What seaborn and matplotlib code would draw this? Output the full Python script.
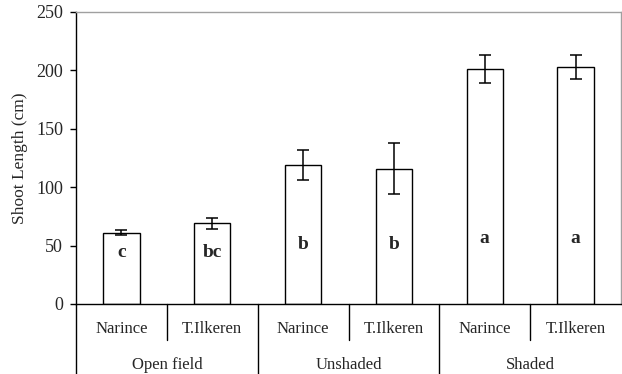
import matplotlib
matplotlib.use("Agg")
import matplotlib.pyplot as plt
import matplotlib.transforms as mtransforms
import seaborn as sns
import pandas as pd

groups = ["Open field", "Unshaded", "Shaded"]
cultivars = ["Narince", "T.Ilkeren"]
values = [61, 69, 119, 116, 201, 203]
errors = [2, 5, 13, 22, 12, 10]
letters = ["c", "bc", "b", "b", "a", "a"]
letter_y = [44, 44, 51, 51, 56, 56]
yticks = [0, 50, 100, 150, 200, 250]

labels = [f"{g}|{c}" for g in groups for c in cultivars]
df = pd.DataFrame({"cat": labels, "val": values})

sns.set_style("white")
plt.rcParams["font.family"] = ["Liberation Serif", "DejaVu Serif"]

fig = plt.figure(figsize=(6.22, 3.74), dpi=100)
W, H = 622, 374
ax = fig.add_axes([76 / W, (H - 304) / H, 545 / W, 292 / H])

sns.barplot(data=df, x="cat", y="val", order=labels, color="white",
            edgecolor="black", linewidth=1.0, width=0.40, ax=ax,
            errorbar=None, saturation=1)
ax.errorbar(range(len(values)), values, yerr=errors, fmt="none",
            ecolor="black", elinewidth=1.1, capsize=4.5, capthick=1.1)

for i, (lt, ly) in enumerate(zip(letters, letter_y)):
    ax.text(i, ly, lt, ha="center", va="center", fontsize=14,
            fontweight="bold")

ax.set_xlim(-0.5, 5.5)
ax.set_ylim(0, 250)
ax.set_yticks(yticks)
ax.set_yticklabels([str(t) for t in yticks], fontsize=13)
ax.tick_params(axis="y", direction="out", length=4.3, width=1, color="black",
               left=True, pad=5)
ax.tick_params(axis="x", bottom=False, labelbottom=False)
ax.set_xlabel("")
ax.set_ylabel("Shoot Length (cm)", fontsize=12.5, labelpad=6)

for s in ["top", "right"]:
    ax.spines[s].set_color("#a0a0a0")
    ax.spines[s].set_linewidth(1.0)
for s in ["left", "bottom"]:
    ax.spines[s].set_color("black")
    ax.spines[s].set_linewidth(1.0)

trans = mtransforms.blended_transform_factory(ax.transData, ax.transAxes)
y_sub = -(340 - 304) / 292
y_grp = -(374 - 304) / 292 - 0.01
y_sub_txt = -(329 - 304) / 292
y_grp_txt = -(365 - 304) / 292

# left spine extension
ax.plot([-0.5, -0.5], [0, y_grp], transform=trans, color="black", lw=1.0,
        clip_on=False)
for gi in range(len(groups)):
    if gi > 0:
        xb = gi * 2 - 0.5
        ax.plot([xb, xb], [0, y_grp], transform=trans, color="black", lw=1.0,
                clip_on=False)
    xm = gi * 2 + 0.5
    ax.plot([xm, xm], [0, y_sub], transform=trans, color="black", lw=1.0,
            clip_on=False)
    ax.text(gi * 2 + 0.5, y_grp_txt, groups[gi], transform=trans,
            ha="center", va="center", fontsize=12)
    for ci, c in enumerate(cultivars):
        ax.text(gi * 2 + ci, y_sub_txt, c, transform=trans, ha="center",
                va="center", fontsize=12)

fig.savefig("out.png", dpi=100, facecolor="white")
